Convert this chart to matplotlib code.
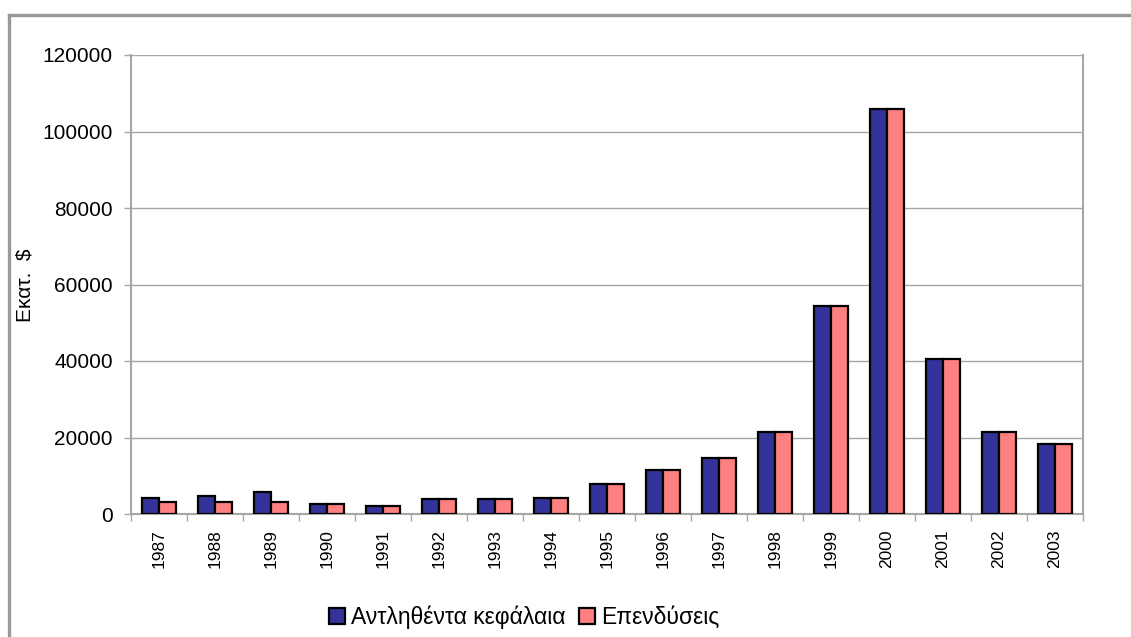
import matplotlib.pyplot as plt
import numpy as np
from matplotlib.lines import Line2D

plt.rcParams['font.family'] = ['Liberation Sans', 'DejaVu Sans']

years = ['1987', '1988', '1989', '1990', '1991', '1992', '1993', '1994', '1995',
         '1996', '1997', '1998', '1999', '2000', '2001', '2002', '2003']
raised = [4200, 4700, 5800, 2700, 2200, 3800, 3800, 4300, 7800,
          11500, 14600, 21400, 54300, 106000, 40600, 21400, 18200]
invested = [3200, 3200, 3200, 2700, 2200, 3800, 3800, 4300, 7800,
            11500, 14600, 21400, 54300, 106000, 40600, 21400, 18200]
series_names = ['Αντληθέντα κεφάλαια', 'Επενδύσεις']

W, H = 1131, 637
fig = plt.figure(figsize=(W / 100, H / 100), dpi=100)
ax = fig.add_axes([131 / W, (H - 514) / H, 952 / W, 459 / H])

x = np.arange(len(years))
bw = 0.295
ax.bar(x - bw / 2, raised, bw, color='#333399', edgecolor='black', linewidth=1.6,
       label=series_names[0], zorder=3)
ax.bar(x + bw / 2, invested, bw, color='#FF8080', edgecolor='black', linewidth=1.6,
       label=series_names[1], zorder=3)

grid_c = '#a6a6a6'
ax.set_xlim(-0.5, len(years) - 0.5)
ax.set_ylim(0, 120000)
ax.set_yticks(np.arange(0, 120001, 20000))
ax.yaxis.grid(True, color=grid_c, linewidth=1.0, zorder=0)
ax.set_axisbelow(True)

ax.set_xticks(x)
ax.set_xticklabels(years, rotation=90, fontsize=12.5)
ax.set_xticks(np.arange(-0.5, len(years)), minor=True)
ax.tick_params(axis='x', which='major', length=0, pad=11)
ax.tick_params(axis='x', which='minor', length=5, color=grid_c, width=1)
ax.tick_params(axis='y', length=5, color=grid_c, width=1, pad=8, labelsize=15)

for side in ['left', 'bottom', 'right']:
    ax.spines[side].set_color(grid_c)
    ax.spines[side].set_linewidth(1.5)
ax.spines['top'].set_visible(False)

fig.text(25 / W, (H - 285) / H, 'Εκατ.  $', rotation=90, fontsize=15,
         ha='center', va='center')

leg = fig.legend(loc='center', bbox_to_anchor=(524 / W, (H - 617) / H), ncol=2,
                 frameon=False, fontsize=16.5, handlelength=0.7, handleheight=0.7,
                 handletextpad=0.25, columnspacing=0.6, borderaxespad=0)

# outer chart frame (left and top edges)
fig.add_artist(Line2D([9 / W, 9 / W], [0, (H - 15) / H], transform=fig.transFigure,
                      color='#999999', linewidth=2.4))
fig.add_artist(Line2D([9 / W, 1], [(H - 15) / H, (H - 15) / H], transform=fig.transFigure,
                      color='#999999', linewidth=2.4))

fig.savefig('out.png', dpi=100)
